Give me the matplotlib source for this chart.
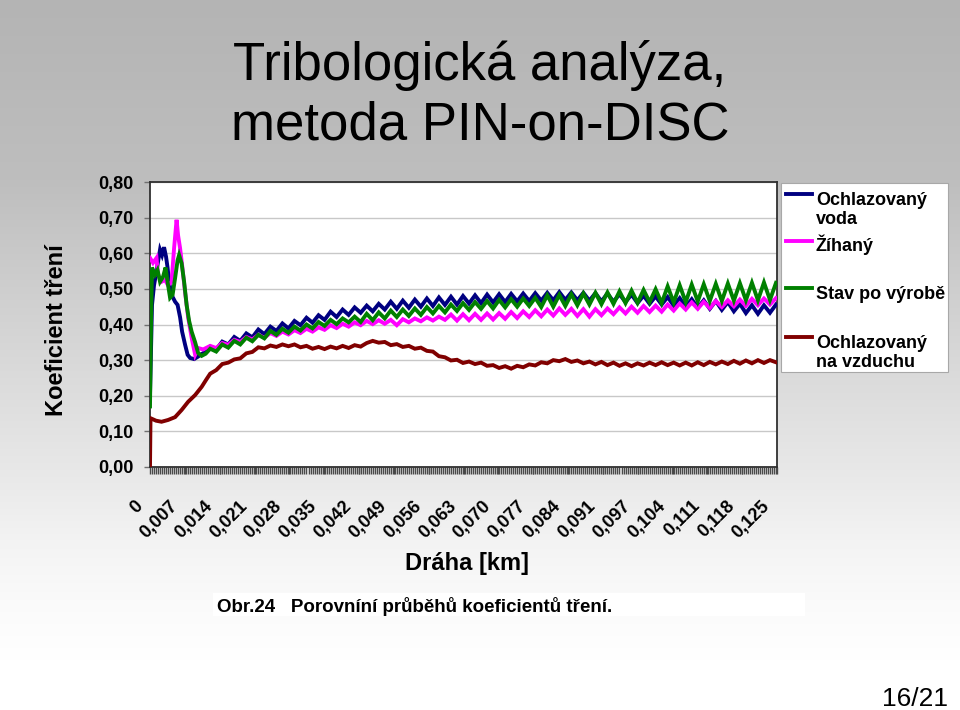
import numpy as np
import matplotlib.pyplot as plt
import matplotlib.transforms as mtransforms
from matplotlib.lines import Line2D
from matplotlib.patches import Rectangle
from matplotlib.ticker import FixedLocator, MultipleLocator

plt.rcParams['font.family'] = ['Liberation Sans', 'DejaVu Sans']

W, H = 960, 710


def fx(px):
    return px / W


def fy(py):
    return 1 - py / H


# ---- data ----
x_labels = ["0", "0,007", "0,014", "0,021", "0,028", "0,035", "0,042",
            "0,049", "0,056", "0,063", "0,070", "0,077", "0,084", "0,091",
            "0,097", "0,104", "0,111", "0,118", "0,125"]
y_ticks = [0.0, 0.1, 0.2, 0.3, 0.4, 0.5, 0.6, 0.7, 0.8]
y_labels = ["0,00", "0,10", "0,20", "0,30", "0,40", "0,50", "0,60", "0,70", "0,80"]

series_names = ["Ochlazovaný\nvoda", "Žíhaný", "Stav po výrobě", "Ochlazovaný\nna vzduchu"]
series_colors = ["#000080", "#ff00ff", "#008000", "#800000"]

# sampled distance after the running-in phase (km)
dist_tail = np.arange(0.0120, 0.1249, 0.0012)

voda_x0 = [0.0, 0.0004, 0.0008, 0.0013, 0.0020, 0.0024, 0.0028, 0.0032, 0.0035,
           0.0038, 0.0043, 0.0050, 0.0055, 0.0060, 0.0064, 0.0070, 0.0075,
           0.0080, 0.0088, 0.0096, 0.0104, 0.0112]
voda_y0 = [0.20, 0.455, 0.51, 0.55, 0.61, 0.595, 0.617, 0.59, 0.56,
           0.52, 0.483, 0.464, 0.455, 0.42, 0.38, 0.343, 0.315,
           0.306, 0.303, 0.31, 0.318, 0.324]
voda_tail = [0.338, 0.330, 0.352, 0.344, 0.365, 0.354, 0.375, 0.364, 0.386, 0.373,
             0.394, 0.382, 0.403, 0.389, 0.410, 0.398, 0.419, 0.405, 0.426, 0.413,
             0.436, 0.421, 0.442, 0.427, 0.448, 0.433, 0.453, 0.437, 0.458, 0.442,
             0.464, 0.444, 0.467, 0.447, 0.470, 0.450, 0.473, 0.452, 0.476, 0.455,
             0.478, 0.456, 0.480, 0.459, 0.482, 0.460, 0.484, 0.462, 0.485, 0.463,
             0.486, 0.465, 0.487, 0.466, 0.488, 0.467, 0.489, 0.468, 0.491, 0.469,
             0.490, 0.468, 0.489, 0.467, 0.488, 0.465, 0.487, 0.464, 0.485, 0.463,
             0.484, 0.460, 0.481, 0.458, 0.479, 0.456, 0.477, 0.453, 0.474, 0.450,
             0.471, 0.447, 0.468, 0.444, 0.466, 0.441, 0.463, 0.437, 0.458, 0.432,
             0.454, 0.430, 0.454, 0.433, 0.456]

zihany_x0 = [0.0, 0.0006, 0.0013, 0.0016, 0.0023, 0.0030, 0.0036, 0.0043, 0.0048,
             0.0053, 0.0056, 0.0060, 0.0064, 0.0070, 0.0076, 0.0083, 0.0090,
             0.0096, 0.0106]
zihany_y0 = [0.587, 0.573, 0.587, 0.54, 0.52, 0.525, 0.51, 0.52, 0.614,
             0.694, 0.65, 0.614, 0.567, 0.49, 0.42, 0.363, 0.315,
             0.334, 0.33]
zihany_tail = [0.340, 0.334, 0.348, 0.343, 0.357, 0.351, 0.365, 0.358, 0.371, 0.363,
               0.376, 0.368, 0.380, 0.372, 0.384, 0.376, 0.388, 0.380, 0.392, 0.385,
               0.398, 0.390, 0.402, 0.394, 0.406, 0.398, 0.410, 0.401, 0.412, 0.402,
               0.413, 0.398, 0.415, 0.406, 0.417, 0.409, 0.420, 0.411, 0.422, 0.413,
               0.428, 0.411, 0.429, 0.412, 0.430, 0.413, 0.431, 0.414, 0.432, 0.416,
               0.435, 0.418, 0.437, 0.421, 0.440, 0.423, 0.442, 0.425, 0.445, 0.427,
               0.444, 0.424, 0.443, 0.422, 0.443, 0.426, 0.445, 0.429, 0.448, 0.431,
               0.450, 0.433, 0.452, 0.435, 0.453, 0.436, 0.456, 0.439, 0.459, 0.442,
               0.462, 0.444, 0.464, 0.446, 0.466, 0.449, 0.468, 0.451, 0.470, 0.452,
               0.472, 0.454, 0.473, 0.456, 0.474]

stav_x0 = [0.0, 0.0002, 0.0004, 0.0010, 0.0015, 0.0020, 0.0026, 0.0031, 0.0035,
           0.0040, 0.0045, 0.0050, 0.0055, 0.0058, 0.0063, 0.0068, 0.0073,
           0.0078, 0.0083, 0.0090, 0.0096, 0.0103, 0.0111]
stav_y0 = [0.17, 0.40, 0.56, 0.54, 0.553, 0.52, 0.534, 0.56, 0.52,
           0.475, 0.483, 0.53, 0.58, 0.595, 0.572, 0.52, 0.455,
           0.41, 0.38, 0.35, 0.32, 0.312, 0.318]
stav_tail = [0.332, 0.324, 0.344, 0.335, 0.354, 0.344, 0.363, 0.353, 0.371, 0.361,
             0.382, 0.371, 0.388, 0.377, 0.394, 0.383, 0.400, 0.389, 0.407, 0.396,
             0.413, 0.401, 0.417, 0.406, 0.422, 0.407, 0.430, 0.412, 0.434, 0.417,
             0.439, 0.421, 0.442, 0.424, 0.445, 0.427, 0.449, 0.431, 0.452, 0.434,
             0.456, 0.438, 0.460, 0.441, 0.463, 0.444, 0.466, 0.445, 0.469, 0.448,
             0.471, 0.450, 0.473, 0.452, 0.475, 0.449, 0.482, 0.450, 0.483, 0.452,
             0.485, 0.454, 0.487, 0.456, 0.489, 0.457, 0.490, 0.458, 0.493, 0.460,
             0.495, 0.461, 0.497, 0.463, 0.499, 0.460, 0.507, 0.462, 0.510, 0.463,
             0.512, 0.465, 0.513, 0.466, 0.514, 0.466, 0.515, 0.467, 0.516, 0.468,
             0.517, 0.468, 0.518, 0.469, 0.517]

vzduch_x0 = [0.0, 0.0001, 0.0012, 0.0023, 0.0036, 0.0050, 0.0063, 0.0076, 0.0090,
             0.0103, 0.0112]
vzduch_y0 = [0.0, 0.137, 0.130, 0.127, 0.132, 0.140, 0.160, 0.183, 0.202,
             0.225, 0.245]
vzduch_tail = [0.262, 0.272, 0.289, 0.293, 0.302, 0.305, 0.319, 0.323, 0.336, 0.333,
               0.341, 0.337, 0.344, 0.339, 0.344, 0.336, 0.340, 0.332, 0.337, 0.331,
               0.338, 0.333, 0.340, 0.334, 0.342, 0.338, 0.348, 0.354, 0.349, 0.351,
               0.342, 0.345, 0.337, 0.340, 0.332, 0.335, 0.326, 0.324, 0.311, 0.308,
               0.299, 0.301, 0.292, 0.296, 0.289, 0.293, 0.284, 0.286, 0.278, 0.283,
               0.276, 0.284, 0.280, 0.288, 0.285, 0.294, 0.291, 0.300, 0.297, 0.303,
               0.295, 0.299, 0.291, 0.296, 0.288, 0.295, 0.286, 0.293, 0.284, 0.291,
               0.283, 0.291, 0.285, 0.293, 0.286, 0.294, 0.286, 0.293, 0.285, 0.293,
               0.285, 0.294, 0.286, 0.295, 0.288, 0.296, 0.289, 0.298, 0.290, 0.299,
               0.291, 0.300, 0.292, 0.300, 0.294]

series = [
    (voda_x0 + list(dist_tail), voda_y0 + voda_tail),
    (zihany_x0 + list(dist_tail), zihany_y0 + zihany_tail),
    (stav_x0 + list(dist_tail), stav_y0 + stav_tail),
    (vzduch_x0 + list(dist_tail), vzduch_y0 + vzduch_tail),
]

LW = 2.8

fig = plt.figure(figsize=(W / 100, H / 100), dpi=100)

# slide background: grey fading to white
grad_y = [0, 180, 300, 470, 540, 600, 660, 710]
grad_v = [180, 190, 208, 232, 243, 250, 255, 255]
shade = np.interp(np.arange(H), grad_y, grad_v) / 255.0
bg_img = np.repeat(shade[:, None, None], 3, axis=2)
bg = fig.add_axes([0, 0, 1, 1], zorder=-10)
bg.imshow(bg_img, aspect='auto', extent=[0, 1, 0, 1])
bg.axis('off')

ax = fig.add_axes([fx(150), fy(467), fx(777) - fx(150), fy(182) - fy(467)])
ax.set_facecolor('white')

for (xs, ys), c in zip(series, series_colors):
    ax.plot(xs, ys, color=c, lw=LW, solid_joinstyle='miter', zorder=3)

ax.set_xlim(0, 0.125)
ax.set_ylim(0, 0.8)

ax.yaxis.set_major_locator(FixedLocator(y_ticks))
ax.set_yticklabels(y_labels, fontsize=13, fontweight='bold')
ax.xaxis.set_major_locator(FixedLocator(np.linspace(0, 0.125, len(x_labels))))
ax.xaxis.set_minor_locator(MultipleLocator(0.0004))
ax.set_xticklabels(x_labels, fontsize=13, fontweight='bold', rotation=45,
                   ha='right', va='top', rotation_mode='anchor')

ax.tick_params(axis='y', length=4, width=1, color='#707070', pad=8)
ax.tick_params(axis='x', which='major', length=5, width=1.0, color='#4a4a4a', pad=17)
ax.tick_params(axis='x', which='minor', length=5, width=1.0, color='#4a4a4a')
ax.grid(axis='y', color='#c8c8c8', lw=1)
ax.set_axisbelow(True)
for sp in ax.spines.values():
    sp.set_color('#303030')
    sp.set_linewidth(1.3)

# nudge the slanted category labels left, as on the slide
shift = mtransforms.ScaledTranslation(-16 / 100, 0, fig.dpi_scale_trans)
for lab in ax.get_xticklabels():
    lab.set_transform(lab.get_transform() + shift)

# titles and axis labels
fig.text(0.5, fy(80), "Tribologická analýza,", ha='center', va='baseline', fontsize=38)
fig.text(0.5, fy(140), "metoda PIN-on-DISC", ha='center', va='baseline', fontsize=38)
fig.text(fx(57), fy(330), "Koeficient tření", rotation=90, ha='center', va='center',
         fontsize=17, fontweight='bold')
fig.text(fx(467), fy(570), "Dráha [km]", ha='center', va='baseline',
         fontsize=17, fontweight='bold')

# legend box in the Excel style (handle next to the first line)
fig.add_artist(Rectangle((fx(781), fy(372)), fx(948) - fx(781), fy(183) - fy(372),
                         transform=fig.transFigure, facecolor='white',
                         edgecolor='#a8a8a8', lw=0.8))
leg_baselines = [205, 251, 299, 348]
leg_handles_y = [194, 241, 288, 337]
for name, c, base, hy in zip(series_names, series_colors, leg_baselines, leg_handles_y):
    fig.add_artist(Line2D([fx(786), fx(812)], [fy(hy), fy(hy)], color=c, lw=LW,
                          transform=fig.transFigure))
    for i, line in enumerate(name.split("\n")):
        fig.text(fx(816), fy(base + 19 * i), line, ha='left', va='baseline',
                 fontsize=13, fontweight='bold')

# caption
fig.add_artist(Rectangle((fx(213), fy(616)), fx(805) - fx(213), fy(593) - fy(616),
                         transform=fig.transFigure, facecolor='white', edgecolor='none'))
fig.text(fx(217), fy(612), "Obr.24   Porovníní průběhů koeficientů tření.",
         ha='left', va='baseline', fontsize=13.5, fontweight='bold')

fig.text(fx(948), fy(706), "16/21", ha='right', va='baseline', fontsize=19)

fig.savefig("out.png", dpi=100)
